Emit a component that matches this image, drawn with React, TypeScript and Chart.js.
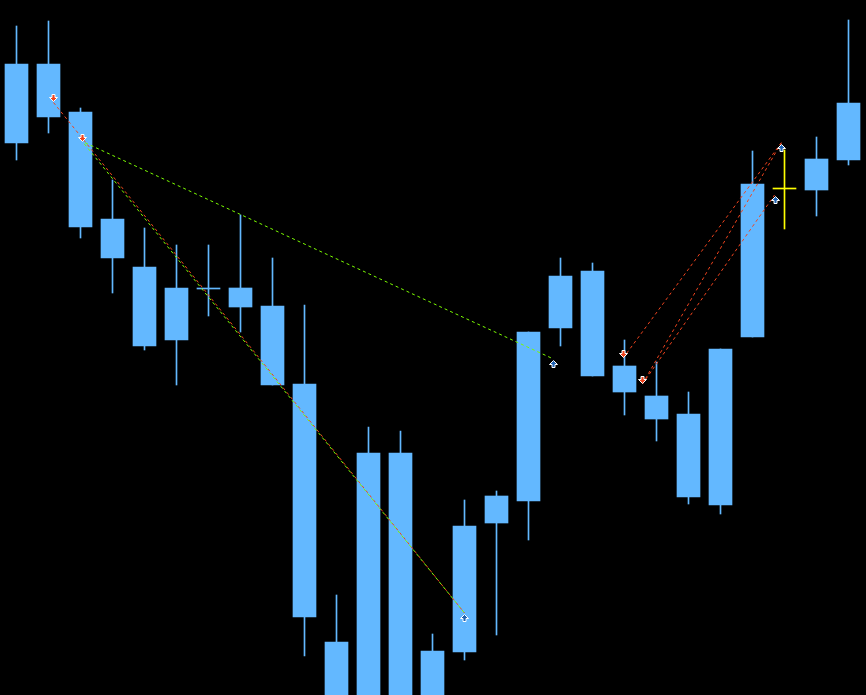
import React, { useEffect, useRef } from "react";
import { Chart, registerables } from "chart.js";

Chart.register(...registerables);

// Bar index (one per candle) and prices in points
const candleIndex = [0, 1, 2, 3, 4, 5, 6, 7, 8, 9, 10, 11, 12, 13, 14, 15, 16, 17, 18, 19, 20, 21, 22, 23, 24, 25, 26];
const opens = [857, 936, 888, 781, 733, 660, 711, 712, 694, 616, 358, 235, 547, 240, 348, 477, 499, 672, 729, 634, 604, 586, 495, 663, 811, 810, 840];
const highs = [974, 979, 892, 820, 772, 755, 755, 785, 742, 695, 405, 573, 569, 366, 500, 509, 668, 742, 737, 660, 638, 608, 651, 849, 850, 863, 980];
const lows = [840, 867, 762, 707, 650, 615, 684, 668, 615, 344, 220, 225, 230, 232, 340, 365, 460, 654, 624, 585, 559, 496, 486, 663, 771, 784, 835];
const closes = [936, 883, 773, 742, 654, 712, 711, 693, 615, 383, 230, 547, 240, 349, 474, 504, 668, 724, 624, 608, 581, 503, 651, 816, 811, 841, 897];

// Trade markers (bar position, price)
const sellMarkIdx = [1.156, 2.06, 18.96, 19.56];
const sellMarkPrice = [897.5, 858.5, 642, 616];
const buyMarkIdx = [14.0, 16.78, 23.9, 23.69];
const buyMarkPrice = [387, 641, 857.3, 805];

// Trade lines: from sell mark -> to buy mark
const tradeFrom = [0, 1, 1, 2, 3, 3];
const tradeTo = [0, 0, 1, 2, 2, 3];
const tradeKind = ["sell", "alt", "alt", "sell", "sell", "sell"];

const highlightIndex = 24;

const CANDLE = "#63b8ff";
const HILITE = "#ffff00";
const RED = "#f0441e";
const GREEN = "#7cfc00";
const BLUE = "#1f62b2";

const tradePlugin = {
  id: "trades",
  afterDatasetsDraw(chart: any) {
    const ctx: CanvasRenderingContext2D = chart.ctx;
    const xs = chart.scales.x;
    const ys = chart.scales.y;
    ctx.save();
    ctx.lineWidth = 1;
    ctx.setLineDash([3, 3]);
    for (let k = 0; k < tradeFrom.length; k++) {
      const f = tradeFrom[k];
      const t = tradeTo[k];
      const x1 = xs.getPixelForValue(sellMarkIdx[f]);
      const y1 = ys.getPixelForValue(sellMarkPrice[f]);
      const x2 = xs.getPixelForValue(buyMarkIdx[t]);
      const y2 = ys.getPixelForValue(buyMarkPrice[t]);
      ctx.strokeStyle = tradeKind[k] === "sell" ? RED : GREEN;
      ctx.lineDashOffset = tradeKind[k] === "sell" ? 0 : 3;
      ctx.beginPath();
      ctx.moveTo(x1, y1);
      ctx.lineTo(x2, y2);
      ctx.stroke();
    }
    ctx.setLineDash([]);
    ctx.lineWidth = 1;
    ctx.strokeStyle = "#ffffff";
    // sell arrows (pointing down, tip at price)
    for (let k = 0; k < sellMarkIdx.length; k++) {
      const x = Math.round(xs.getPixelForValue(sellMarkIdx[k])) + 0.5;
      const y = Math.round(ys.getPixelForValue(sellMarkPrice[k])) + 0.5;
      ctx.beginPath();
      ctx.moveTo(x - 1.5, y - 8);
      ctx.lineTo(x + 1.5, y - 8);
      ctx.lineTo(x + 1.5, y - 5);
      ctx.lineTo(x + 4, y - 5);
      ctx.lineTo(x, y - 1);
      ctx.lineTo(x - 4, y - 5);
      ctx.lineTo(x - 1.5, y - 5);
      ctx.closePath();
      ctx.fillStyle = RED;
      ctx.fill();
      ctx.stroke();
    }
    // buy arrows (pointing up, tip at price)
    for (let k = 0; k < buyMarkIdx.length; k++) {
      const x = Math.round(xs.getPixelForValue(buyMarkIdx[k])) + 0.5;
      const y = Math.round(ys.getPixelForValue(buyMarkPrice[k])) + 0.5;
      ctx.beginPath();
      ctx.moveTo(x, y + 1);
      ctx.lineTo(x + 4, y + 5);
      ctx.lineTo(x + 1.5, y + 5);
      ctx.lineTo(x + 1.5, y + 8);
      ctx.lineTo(x - 1.5, y + 8);
      ctx.lineTo(x - 1.5, y + 5);
      ctx.lineTo(x - 4, y + 5);
      ctx.closePath();
      ctx.fillStyle = BLUE;
      ctx.fill();
      ctx.stroke();
    }
    ctx.restore();
  },
};

export default function App() {
  const ref = useRef<HTMLCanvasElement | null>(null);
  useEffect(() => {
    if (!ref.current) return;
    const colorFor = (c: any) => (c.dataIndex === highlightIndex ? HILITE : CANDLE);
    const chart = new Chart(ref.current, {
      type: "bar",
      data: {
        datasets: [
          {
            label: "bodies",
            data: candleIndex.map((i) => ({ x: i, y: [opens[i], closes[i]] })) as any,
            backgroundColor: colorFor,
            borderWidth: 0,
            barThickness: 23,
            minBarLength: 1,
            grouped: false,
          } as any,
          {
            label: "wicks",
            data: candleIndex.map((i) => ({ x: i, y: [lows[i], highs[i]] })) as any,
            backgroundColor: colorFor,
            borderWidth: 0,
            barThickness: 1,
            grouped: false,
          } as any,
        ],
      },
      options: {
        animation: false,
        responsive: false,
        devicePixelRatio: 1,
        layout: { padding: 0 },
        scales: {
          x: { type: "linear", min: -0.515625, max: 26.546875, offset: false, display: false },
          y: { min: 305, max: 1000, display: false },
        },
        plugins: { legend: { display: false }, tooltip: { enabled: false } },
      } as any,
      plugins: [tradePlugin],
    });
    return () => chart.destroy();
  }, []);
  return (
    <div style={{ position: "fixed", left: 0, top: 0, width: 866, height: 695, background: "#000" }}>
      <canvas ref={ref} width={866} height={695} style={{ display: "block" }} />
    </div>
  );
}
